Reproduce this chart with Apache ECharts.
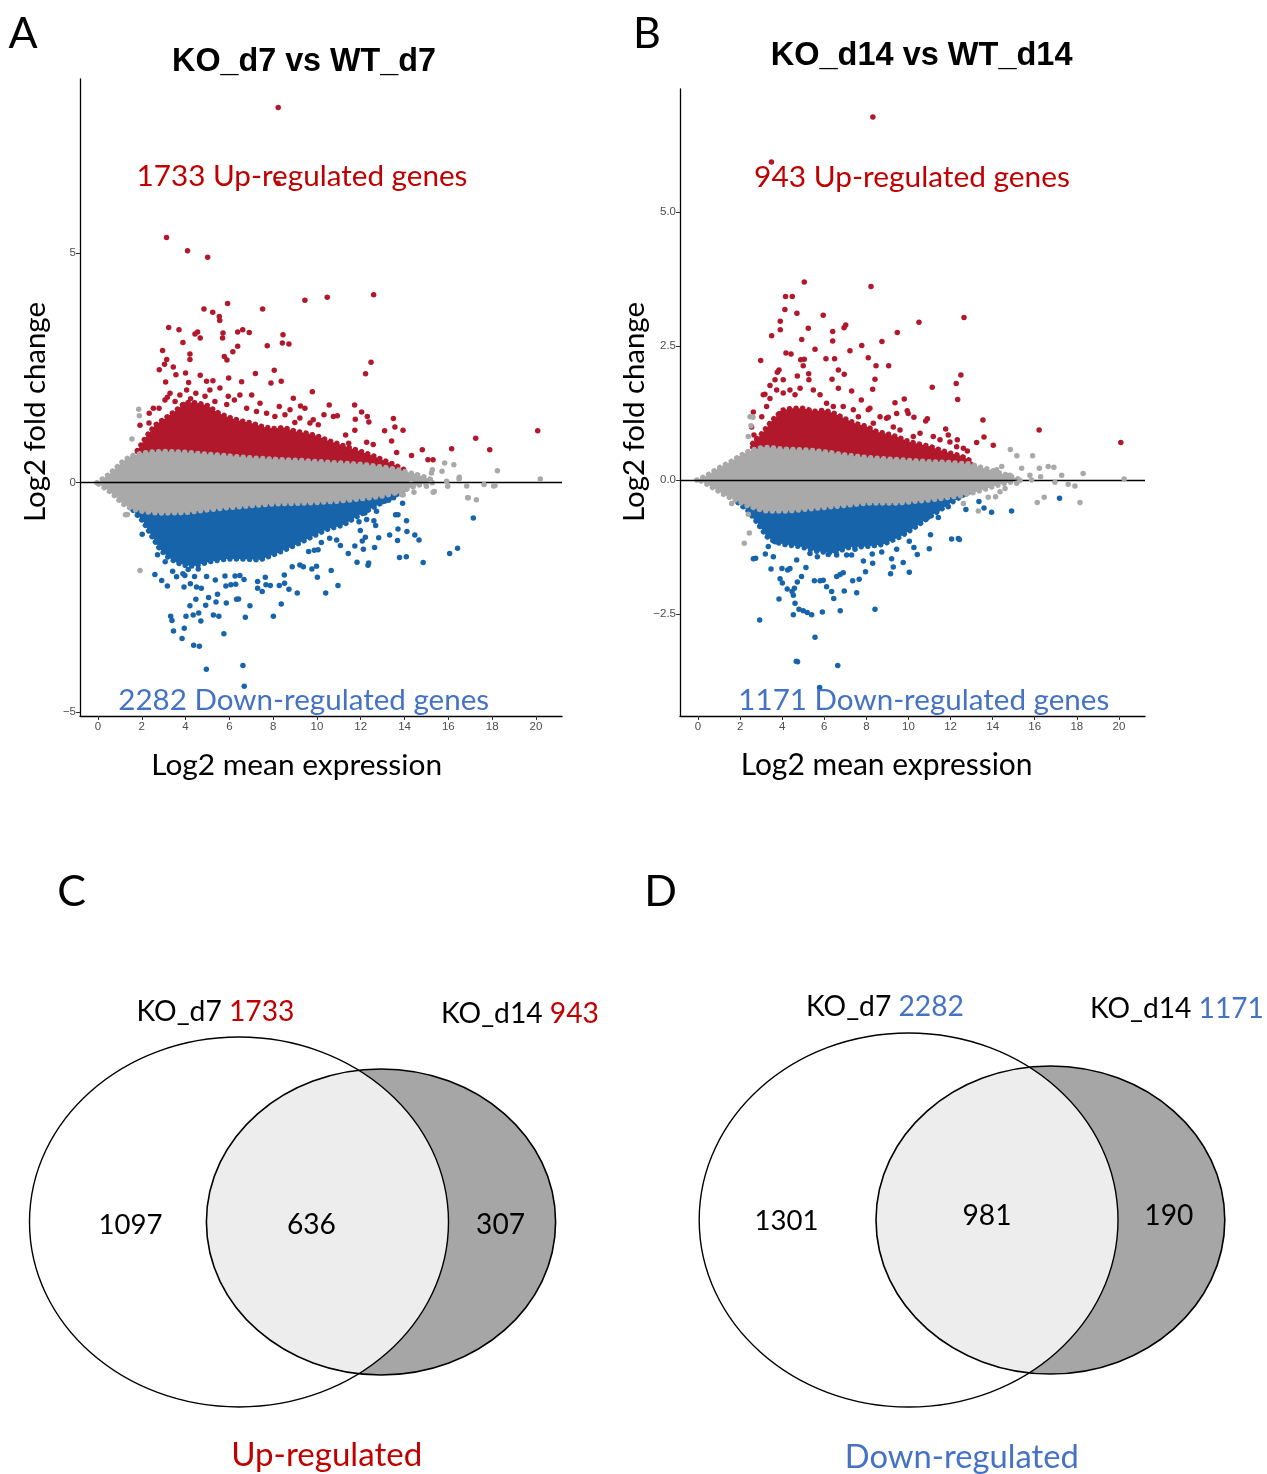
<!DOCTYPE html>
<html><head><meta charset="utf-8">
<script src="https://cdn.jsdelivr.net/npm/echarts@6/dist/echarts.min.js"></script>
<style>html,body{margin:0;padding:0;background:#fff}#c{width:1267px;height:1474px}</style>
</head><body><div id="c"></div>
<script>
// ---------------- DATA ----------------
const xTickValues = [0, 2, 4, 6, 8, 10, 12, 14, 16, 18, 20];
const yTicksA = [-5, 0, 5];
const yTicksB = [-2.5, 0, 2.5, 5];

// Panel A (KO_d7 vs WT_d7): dense gray cloud envelope
const grayAX  = [-0.05, 0.2, 0.5, 0.8, 1.1, 1.5, 2.0, 2.5, 3.0, 4.0, 5.0, 6.0, 7.0, 8.0, 9.0, 10.0, 11.0, 12.0, 13.0, 13.6, 14.2, 14.8, 15.3];
const grayAUp = [0, 0.08, 0.18, 0.31, 0.45, 0.58, 0.64, 0.67, 0.68, 0.66, 0.62, 0.58, 0.54, 0.51, 0.49, 0.46, 0.43, 0.40, 0.34, 0.29, 0.22, 0.14, 0.05];
const grayALo = [0, -0.08, -0.18, -0.30, -0.45, -0.56, -0.62, -0.65, -0.66, -0.65, -0.59, -0.54, -0.50, -0.46, -0.45, -0.43, -0.40, -0.35, -0.29, -0.22, -0.12, -0.03, 0];
// dense cores of significant genes (A)
const redCoreAX   = [1.8, 2.2, 2.6, 3.0, 3.5, 4.0, 4.5, 5.0, 5.5, 6.0, 6.5, 7.0, 7.5, 8.0, 8.5, 9.0, 9.5, 10.0, 10.5, 11.0, 11.5, 12.0, 12.5, 13.0, 13.5, 14.0];
const redCoreATop = [0.7, 1.0, 1.25, 1.38, 1.55, 1.75, 1.74, 1.68, 1.52, 1.42, 1.35, 1.3, 1.22, 1.18, 1.2, 1.12, 1.08, 1.02, 0.92, 0.84, 0.76, 0.68, 0.6, 0.5, 0.4, 0.28];
const blueCoreAX  = [1.6, 2.07, 2.5, 2.83, 3.2, 3.59, 4.0, 4.35, 5.11, 5.88, 6.64, 7.4, 8.16, 8.92, 9.68, 10.44, 11.2, 11.96, 12.72, 13.49, 14.0];
const blueCoreABot = [-0.6, -0.85, -1.2, -1.45, -1.62, -1.74, -1.8, -1.82, -1.72, -1.66, -1.66, -1.68, -1.54, -1.38, -1.2, -1.02, -0.92, -0.7, -0.5, -0.3, -0.15];
const redPointsA = [[12.59,4.09],[10.47,4.04],[9.45,3.97],[5.92,3.90],[4.84,3.78],[5.24,3.71],[7.52,3.78],[5.54,3.62],[5.56,3.53],[3.23,3.38],[3.70,3.33],[4.43,3.24],[4.55,3.28],[4.67,3.15],[5.71,3.26],[5.69,3.15],[6.38,3.28],[6.61,3.33],[6.91,3.27],[8.45,3.22],[8.42,3.04],[8.72,3.02],[7.73,2.98],[3.88,3.05],[2.95,2.88],[4.20,2.80],[4.20,2.68],[3.14,2.68],[3.04,2.58],[2.80,2.46],[5.77,2.75],[5.89,2.67],[6.16,2.85],[6.38,2.97],[12.47,2.62],[12.22,2.37],[3.44,2.52],[3.56,2.35],[3.09,2.19],[4.00,2.39],[4.67,2.34],[5.97,2.28],[6.56,2.20],[7.19,2.38],[8.05,2.45],[8.37,2.21],[7.90,2.17],[9.79,1.98],[4.96,2.21],[5.25,2.22],[4.14,2.18],
  [2.34,1.51],[2.53,1.62],[2.79,1.62],[1.92,1.25],[2.33,1.30],[3.06,1.80],[3.29,1.95],[3.74,1.91],[4.05,2.02],[4.47,1.95],[5.11,2.02],[5.57,2.06],[5.95,1.88],[6.48,1.91],[7.02,1.91],[7.40,1.73],[8.28,1.66],[8.92,1.84],[9.25,1.67],[9.45,1.62],[10.56,1.69],[11.72,1.69],[12.04,1.54],[12.30,1.44],[12.37,1.32],[11.75,1.38],[10.32,1.48],[10.75,1.44],[10.93,1.46],[9.68,1.30],[8.99,1.31],[13.49,1.40],[13.56,1.21],[13.93,1.14],[13.09,1.13],[13.41,0.91],[14.81,0.72],[14.32,0.59],[13.64,0.66],[15.07,0.50],[11.73,1.14],[11.31,1.04],[11.45,0.86],[12.27,0.88],[12.57,0.83],
  [3.17,1.86],[3.52,1.77],[3.90,1.70],[4.23,1.83],[4.89,1.88],[5.34,1.77],[5.88,1.70],[6.23,1.80],[6.79,1.62],[7.24,1.55],[7.70,1.51],[8.08,1.44],[8.54,1.48],[8.77,1.59],[9.83,1.37],[10.06,1.26],[9.22,1.41],
  [8.23,8.17],[8.22,6.52],[3.13,5.34],[4.09,5.05],[5.01,4.91],[16.15,0.74],[17.25,0.97],[17.89,0.72],[20.08,1.13],[15.3,0.5]];
const bluePointsA = [[2.02,-1.12],[2.60,-2.00],[2.91,-2.13],[3.17,-2.25],[2.72,-1.57],[3.07,-1.72],[3.32,-2.91],[3.38,-3.00],[3.45,-3.23],[3.84,-3.39],[3.94,-3.17],[4.02,-2.91],[4.20,-2.68],[4.37,-3.54],[4.63,-3.56],[4.35,-2.88],[4.60,-2.84],[4.70,-3.01],[4.95,-4.06],[6.62,-3.98],[6.68,-4.43],[5.75,-3.29],[5.27,-2.88],[5.52,-2.91],[5.05,-2.50],[4.47,-2.54],[4.92,-2.67],[5.39,-2.60],[5.46,-2.43],[5.86,-2.62],[6.33,-2.54],[6.42,-2.53],[6.73,-2.93],[6.94,-2.68],[8.01,-2.91],[8.37,-2.64],[7.50,-2.37],[7.29,-2.30],[7.67,-2.22],[7.87,-2.24],[8.28,-2.24],[8.52,-2.19],[8.72,-2.32],[9.10,-2.40],[8.51,-2.01],[7.64,-2.06],[7.29,-2.15],[10.40,-2.40],[10.96,-2.24],[10.65,-1.91],[10.02,-2.06],[9.77,-1.88],[9.98,-1.82],[8.87,-1.83],[9.22,-1.79],[9.38,-1.83],[11.83,-1.73],[12.33,-1.80],[12.36,-1.75],[13.77,-1.63],[14.08,-1.61],[14.85,-1.74],[16.06,-1.54],[16.42,-1.43],[17.14,-0.77],[14.66,-1.25],[14.47,-1.14],[14.11,-1.06],[13.70,-1.01],[13.68,-1.26],[13.32,-1.14],[12.82,-1.20],[12.63,-1.41],[12.12,-1.45],[12.07,-1.27],[11.73,-1.38],[11.43,-1.54],[11.07,-1.37],[10.90,-1.25],[10.58,-1.21],[10.20,-1.30],[9.88,-1.47],[10.05,-1.46],[9.62,-1.50],[12.21,-1.19],[11.98,-1.04],[11.92,-0.85],[12.27,-0.80],[12.19,-0.66],[12.72,-0.62],[12.60,-0.83],[12.68,-0.93],[13.59,-0.70],[13.70,-0.70],[14.09,-0.83],[13.03,-0.41],[13.27,-0.38],[13.91,-0.45],[13.50,-0.33],[3.93,-2.27],[4.22,-2.20],[4.50,-2.27],[4.72,-2.30],[4.12,-1.89],[3.88,-1.98],[3.59,-2.05],[3.41,-1.93],[3.97,-2.02],[6.07,-2.22],[5.84,-2.25],[6.29,-2.21],[6.67,-2.11],[6.48,-2.02],[6.26,-2.03],[5.80,-2.03],[5.36,-2.12],[4.96,-2.04],[4.58,-1.88],[4.41,-2.04]];
const grayPointsA = [[15.83,0.43],[16.25,0.39],[16.49,0.08],[16.84,-0.07],[18.24,0.26],[18.07,-0.07],[17.63,-0.04],[16.88,-0.33],[17.28,-0.37],[20.2,0.08],[15.97,-0.08],[15.36,-0.19],[15.0,-0.08],[15.27,0.28],[15.18,0.07],[14.57,0.17],[14.31,0.07],[14.05,-0.15],[13.87,-0.26],[13.63,-0.19],[15.71,0.25],[1.86,1.60],[1.89,1.46],[1.55,0.95],[1.92,-1.91],[1.26,-0.70],[1.34,-0.69],[13.94,-0.26],[14.43,-0.21],[15.31,-0.21],[15.92,0.03],[16.91,-0.33],[18.13,-0.06],[16.5,0.12],[15.23,0.21]];

// Panel B (KO_d14 vs WT_d14)
const grayBX  = [-0.05, 0.1, 0.4, 0.73, 1.1, 1.52, 2.0, 2.31, 2.7, 3.1, 3.5, 3.9, 4.5, 5.48, 6.3, 7.06, 8.0, 8.65, 9.5, 10.23, 11.0, 11.81, 12.5, 12.92, 13.4, 13.8, 14.19, 14.6, 14.98, 15.3];
const grayBUp = [0, 0.02, 0.08, 0.16, 0.25, 0.33, 0.45, 0.52, 0.57, 0.61, 0.60, 0.58, 0.57, 0.55, 0.51, 0.46, 0.42, 0.40, 0.38, 0.36, 0.34, 0.33, 0.31, 0.30, 0.24, 0.20, 0.15, 0.10, 0.05, 0.01];
const grayBLo = [0, -0.01, -0.07, -0.15, -0.24, -0.33, -0.41, -0.47, -0.52, -0.57, -0.58, -0.58, -0.57, -0.53, -0.50, -0.47, -0.43, -0.43, -0.43, -0.40, -0.37, -0.33, -0.29, -0.25, -0.20, -0.15, -0.10, -0.06, -0.03, -0.01];
const redCoreBX   = [2.6, 3.0, 3.5, 4.0, 4.5, 5.0, 5.5, 6.0, 6.5, 7.0, 7.5, 8.0, 8.5, 9.0, 9.5, 10.0, 10.5, 11.0, 11.5, 12.0, 12.5, 13.0];
const redCoreBTop = [0.68, 0.85, 1.1, 1.3, 1.34, 1.34, 1.28, 1.3, 1.24, 1.14, 1.05, 1.0, 0.9, 0.86, 0.8, 0.72, 0.67, 0.63, 0.56, 0.5, 0.45, 0.35];
const blueCoreBX  = [1.9, 2.4, 2.79, 3.26, 3.6, 4.05, 4.85, 5.64, 6.43, 7.22, 8.01, 8.80, 9.60, 10.39, 11.18, 11.97, 12.6, 13.0];
const blueCoreBBot = [-0.42, -0.58, -0.78, -1.05, -1.14, -1.2, -1.24, -1.33, -1.36, -1.25, -1.24, -1.2, -1.06, -0.86, -0.64, -0.44, -0.28, -0.2];
const redPointsB = [[5.05,3.69],[8.22,3.61],[4.16,3.42],[4.48,3.42],[4.13,3.18],[4.70,3.11],[5.95,3.07],[3.91,2.96],[3.91,2.80],[5.24,2.83],[3.50,2.69],[4.93,2.62],[5.56,2.44],[6.40,2.77],[6.40,2.59],[6.94,2.84],[7.02,2.89],[7.78,2.51],[7.22,2.41],[8.74,2.58],[9.47,2.75],[10.50,2.94],[12.64,3.03],[11.13,1.73],[12.49,1.96],[12.27,1.80],[12.34,1.50],[13.54,1.12],[13.59,0.80],[2.98,2.23],[4.18,2.37],[4.42,2.35],[4.88,2.24],[5.05,2.25],[5.00,2.13],[6.08,2.26],[6.49,2.26],[6.67,2.05],[6.95,1.97],[8.09,2.28],[8.46,2.13],[9.06,2.13],[8.41,1.88],[8.30,1.69],[7.76,1.49],[5.26,1.98],[5.27,1.87],[4.72,1.94],[3.85,2.05],[3.77,2.01],[3.42,1.76],[3.18,1.60],[3.66,1.87],[4.05,1.87],[6.37,1.88],[6.67,1.71],[7.30,1.66],[9.80,1.51],[9.36,1.44],[9.94,1.29],[9.99,1.24],[10.26,1.17],[10.82,1.10],[10.90,1.14],[11.77,0.95],[11.89,0.84],[2.63,1.27],[2.66,0.84],[3.10,1.59],[8.17,1.34],[8.65,1.18],[9.04,1.17],[13.24,0.70],[14.03,0.65],[12.80,0.54],[12.32,0.75],
  [2.55,0.99],[2.79,0.75],[3.03,1.18],[3.26,1.37],[3.42,1.52],[3.74,1.68],[4.05,1.62],[4.37,1.68],[4.61,1.59],[4.85,1.71],[5.48,1.68],[5.80,1.59],[6.11,1.43],[6.43,1.37],[6.90,1.37],[7.38,1.31],[7.62,1.18],[8.09,1.31],[8.33,1.06],[9.28,0.99],[9.60,0.93],[10.23,0.81],[10.55,0.87],[11.18,0.81],[11.50,0.75],[11.97,0.71],[12.29,0.62],[12.61,0.59],[8.96,1.15],[9.44,1.24],[5.32,1.27],[5.80,1.24],[3.90,1.24],
  [8.31,6.77],[3.49,5.93],[16.21,0.93],[20.09,0.70]];
const bluePointsB = [[2.76,-0.70],[2.93,-2.61],[2.63,-1.47],[2.74,-1.46],[3.47,-1.66],[3.85,-2.22],[3.99,-1.65],[4.26,-1.68],[4.37,-1.65],[4.24,-2.03],[3.90,-1.84],[4.01,-1.92],[4.47,-2.08],[4.53,-2.15],[4.58,-2.02],[4.72,-1.90],[4.92,-1.80],[4.61,-2.30],[4.53,-2.51],[4.80,-2.41],[5.00,-2.44],[5.19,-2.47],[5.40,-2.51],[5.56,-2.93],[4.67,-3.38],[4.73,-3.39],[6.64,-3.46],[5.78,-3.87],[5.91,-2.46],[6.76,-2.44],[8.41,-2.41],[7.54,-2.10],[6.95,-2.07],[6.45,-2.21],[6.35,-2.08],[6.11,-1.99],[5.53,-1.88],[5.80,-1.88],[5.95,-1.87],[6.59,-1.80],[6.75,-1.76],[6.90,-1.73],[7.35,-1.88],[7.66,-1.85],[7.96,-1.71],[7.86,-1.51],[8.30,-1.55],[9.15,-1.75],[9.28,-1.62],[9.75,-1.54],[10.04,-1.72],[9.20,-1.47],[10.42,-1.39],[10.26,-1.26],[10.99,-1.28],[11.05,-1.02],[10.04,-1.14],[12.05,-1.10],[12.37,-1.09],[12.42,-1.11],[10.55,-0.76],[10.39,-0.78],[10.91,-0.70],[11.42,-0.70],[11.37,-0.56],[11.18,-0.53],[11.89,-0.50],[12.53,-0.29],[12.73,-0.55],[12.29,-0.32],[8.73,-1.34],[8.28,-1.38],[9.44,-1.29],[7.06,-1.40],[7.30,-1.40],[7.46,-1.29],[6.19,-1.39],[6.59,-1.40],[5.67,-1.43],[5.32,-1.37],[5.13,-1.63],[4.69,-1.49],[3.58,-1.43],[3.20,-1.38],[3.34,-1.24],[3.66,-1.15],[3.42,-0.95],[3.26,-0.90],[17.18,-0.34],[14.90,-0.58],[13.95,-0.60],[13.59,-0.52],[13.35,-0.40]];
const grayPointsB = [[20.25,0.02],[18.30,0.12],[18.15,-0.42],[17.91,-0.11],[17.59,-0.08],[17.28,0.09],[16.91,0.24],[16.64,0.25],[16.22,0.22],[16.28,0.06],[16.45,-0.32],[16.12,-0.42],[16.96,-0.04],[15.77,0.09],[15.85,0.0],[15.38,0.22],[15.30,-0.01],[15.14,-0.06],[14.82,0.09],[14.59,-0.16],[14.43,0.25],[14.19,0.19],[14.35,-0.22],[14.14,-0.31],[13.79,-0.32],[13.32,-0.58],[12.61,-0.44],[2.44,-0.99],[2.20,-1.18],[2.39,-0.64],[1.60,-0.44],[14.84,0.57],[15.9,0.45],[15.15,0.45],[2.47,1.18],[2.52,1.01],[2.39,0.81],[2.61,1.17]];

// Counts
const upCounts   = {d7: 1733, d14: 943, d7Only: 1097, both: 636, d14Only: 307};
const downCounts = {d7: 2282, d14: 1171, d7Only: 1301, both: 981, d14Only: 190};

// ---------------- STYLE / LAYOUT ----------------
const RED_PT = '#b2182b', BLUE_PT = '#1764ab', GRAY_PT = '#a9a9a9';
const RED_TX = '#c00000', BLUE_TX = '#4472c4';
const SANS = 'Lato', ARIAL = '"Liberation Sans"';
const mctx = document.createElement('canvas').getContext('2d');
function fit(text, family, weight, w) {
  mctx.font = weight + ' 100px ' + family;
  return 100 * w / mctx.measureText(text).width;
}
function label(text, cx, cy, w, opt) {
  opt = opt || {};
  const fam = opt.family || SANS, wt = opt.weight || 'normal';
  const size = opt.size || fit(opt.measure || text, fam, wt, w);
  const st = {text: text, x: 0, y: 0, fill: opt.color || '#000',
    font: wt + ' ' + size.toFixed(2) + 'px ' + fam,
    fontSize: size, fontFamily: fam, fontWeight: wt,
    align: 'center', verticalAlign: 'middle', textAlign: 'center', textVerticalAlign: 'middle'};
  if (opt.rich) {
    st.rich = {};
    for (const k in opt.rich) st.rich[k] = {fill: opt.rich[k], color: opt.rich[k], fontSize: size, fontFamily: fam, fontWeight: wt, font: wt + ' ' + size.toFixed(2) + 'px ' + fam};
  }
  return {type: 'text', x: cx, y: cy, rotation: opt.rotation || 0, z: 100, silent: true, style: st};
}

// dense regions drawn as filled envelopes with a beaded (dotted) outline
function band(xs, hi, lo, color, gi, z) {
  const data = xs.map((x, i) => [x, hi[i], lo ? lo[i] : 0]);
  return {type: 'custom', xAxisIndex: gi, yAxisIndex: gi, z: z, silent: true, animation: false,
    data: data, encode: {x: 0, y: [1, 2]},
    renderItem: function (params, api) {
      if (params.dataIndex !== 0) return null;
      const pts = data.map(d => api.coord([d[0], d[1]]))
        .concat(data.slice().reverse().map(d => api.coord([d[0], d[2]])));
      return {type: 'polygon', shape: {points: pts},
        style: {fill: color, stroke: color, lineWidth: 5.5, lineDash: [0.01, 6.5], lineCap: 'round', lineJoin: 'round'}};
    }};
}
function dots(data, color, gi, z, extra) {
  return Object.assign({type: 'scatter', xAxisIndex: gi, yAxisIndex: gi, data: data, symbolSize: 5.5,
    itemStyle: {color: color, opacity: 1}, z: z, silent: true, animation: false}, extra || {});
}
const zeroLine = {silent: true, symbol: ['none', 'none'], label: {show: false},
  lineStyle: {color: '#000', width: 1.4, type: 'solid'}, data: [{yAxis: 0}], animation: false};

function xAx(gi, min, max) {
  return {gridIndex: gi, type: 'value', min: min, max: max,
    axisLine: {show: true, onZero: false, lineStyle: {color: '#000', width: 1.3}},
    axisTick: {show: true, length: 4, customValues: xTickValues, lineStyle: {color: '#333', width: 1}},
    axisLabel: {customValues: xTickValues, color: '#4d4d4d', fontSize: 11.5, fontFamily: 'Liberation Sans', margin: 5},
    splitLine: {show: false}};
}
function yAx(gi, min, max, ticks, fmt) {
  return {gridIndex: gi, type: 'value', min: min, max: max,
    axisLine: {show: true, onZero: false, lineStyle: {color: '#000', width: 1.3}},
    axisTick: {show: true, length: 4, customValues: ticks, lineStyle: {color: '#333', width: 1}},
    axisLabel: {customValues: ticks, color: '#4d4d4d', fontSize: 11.5, fontFamily: 'Liberation Sans', margin: 4,
      formatter: v => (v < 0 ? '\u2212' : '') + fmt(Math.abs(v))},
    splitLine: {show: false}};
}

// Venn geometry (layout only)
const vennC = {e1: {cx: 239, cy: 1222, rx: 209.5, ry: 185}, e2: {cx: 381, cy: 1222, rx: 174.6, ry: 153}};
const vennD = {e1: {cx: 908.6, cy: 1220, rx: 209.4, ry: 187}, e2: {cx: 1050.4, cy: 1220, rx: 174.4, ry: 154}};
function inside(e, x, y) { const a = (x - e.cx) / e.rx, b = (y - e.cy) / e.ry; return a * a + b * b <= 1.0001; }
function lens(v) {
  const pts = [];
  for (let i = 0; i < 720; i++) {
    const t = i / 720 * Math.PI * 2;
    const p1 = [v.e1.cx + v.e1.rx * Math.cos(t), v.e1.cy + v.e1.ry * Math.sin(t)];
    if (inside(v.e2, p1[0], p1[1])) pts.push(p1);
    const p2 = [v.e2.cx + v.e2.rx * Math.cos(t), v.e2.cy + v.e2.ry * Math.sin(t)];
    if (inside(v.e1, p2[0], p2[1])) pts.push(p2);
  }
  const cx = pts.reduce((s, p) => s + p[0], 0) / pts.length, cy = pts.reduce((s, p) => s + p[1], 0) / pts.length;
  pts.sort((a, b) => Math.atan2(a[1] - cy, a[0] - cx) - Math.atan2(b[1] - cy, b[0] - cx));
  return pts;
}
function venn(v) {
  return [
    {type: 'ellipse', shape: v.e1, style: {fill: '#fff', stroke: 'none'}, z: 10, silent: true},
    {type: 'ellipse', shape: v.e2, style: {fill: '#a6a6a6', stroke: 'none'}, z: 11, silent: true},
    {type: 'polygon', shape: {points: lens(v)}, style: {fill: '#ededed', stroke: 'none'}, z: 12, silent: true},
    {type: 'ellipse', shape: v.e1, style: {fill: 'none', stroke: '#000', lineWidth: 1.4}, z: 13, silent: true},
    {type: 'ellipse', shape: v.e2, style: {fill: 'none', stroke: '#000', lineWidth: 1.6}, z: 13, silent: true}
  ];
}

const texts = [
  label('A', 23, 34, 0, {size: 43}),
  label('B', 647, 34, 0, {size: 43}),
  label('C', 71.5, 892, 0, {size: 43}),
  label('D', 660.5, 892, 0, {size: 43}),
  label('KO_d7 vs WT_d7', 304, 62, 264, {family: ARIAL, weight: 'bold'}),
  label('KO_d14 vs WT_d14', 921.6, 56.5, 302, {family: ARIAL, weight: 'bold'}),
  label(upCounts.d7 + ' Up-regulated genes', 302, 176, 331, {color: RED_TX}),
  label(downCounts.d7 + ' Down-regulated genes', 303.7, 700, 371, {color: BLUE_TX}),
  label(upCounts.d14 + ' Up-regulated genes', 912, 177, 316, {color: RED_TX}),
  label(downCounts.d14 + ' Down-regulated genes', 923.8, 700, 371, {color: BLUE_TX}),
  label('Log2 mean expression', 296.6, 765.5, 291),
  label('Log2 mean expression', 886.6, 765.5, 292),
  label('Log2 fold change', 36, 412, 220, {rotation: Math.PI / 2}),
  label('Log2 fold change', 634.5, 412, 220, {rotation: Math.PI / 2}),
  // Venn C
  label('{k|KO_d7 }{r|' + upCounts.d7 + '}', 215.5, 1011.5, 158, {measure: 'KO_d7 ' + upCounts.d7, rich: {k: '#000', r: RED_TX}}),
  label('{k|KO_d14 }{r|' + upCounts.d14 + '}', 520, 1013.5, 158, {measure: 'KO_d14 ' + upCounts.d14, rich: {k: '#000', r: RED_TX}}),
  label(String(upCounts.d7Only), 130.5, 1225, 64),
  label(String(upCounts.both), 311.4, 1225, 49),
  label(String(upCounts.d14Only), 500.6, 1225, 49),
  label('Up-regulated', 326.7, 1455, 191, {color: RED_TX}),
  // Venn D
  label('{k|KO_d7 }{b|' + downCounts.d7 + '}', 885, 1006.5, 158, {measure: 'KO_d7 ' + downCounts.d7, rich: {k: '#000', b: BLUE_TX}}),
  label('{k|KO_d14 }{b|' + downCounts.d14 + '}', 1177, 1008.5, 174, {measure: 'KO_d14 ' + downCounts.d14, rich: {k: '#000', b: BLUE_TX}}),
  label(String(downCounts.d7Only), 786.4, 1221, 64),
  label(String(downCounts.both), 987, 1216, 49),
  label(String(downCounts.d14Only), 1168.8, 1216, 49),
  label('Down-regulated', 961.8, 1457, 234, {color: BLUE_TX})
];

const option = {
  animation: false,
  backgroundColor: '#fff',
  grid: [
    {left: 80, top: 79, width: 482, height: 637},
    {left: 680, top: 89, width: 465, height: 627}
  ],
  xAxis: [xAx(0, -0.82, 21.19), xAx(1, -0.855, 21.24)],
  yAxis: [yAx(0, -5.08, 8.79, yTicksA, v => String(v)), yAx(1, -4.40, 7.29, yTicksB, v => v.toFixed(1))],
  series: [
    band(redCoreAX, redCoreATop, null, RED_PT, 0, 2),
    band(blueCoreAX, blueCoreABot, null, BLUE_PT, 0, 2),
    dots(redPointsA, RED_PT, 0, 3),
    dots(bluePointsA, BLUE_PT, 0, 3),
    band(grayAX, grayAUp, grayALo, GRAY_PT, 0, 4),
    dots(grayPointsA, GRAY_PT, 0, 5, {markLine: zeroLine}),
    band(redCoreBX, redCoreBTop, null, RED_PT, 1, 2),
    band(blueCoreBX, blueCoreBBot, null, BLUE_PT, 1, 2),
    dots(redPointsB, RED_PT, 1, 3),
    dots(bluePointsB, BLUE_PT, 1, 3),
    band(grayBX, grayBUp, grayBLo, GRAY_PT, 1, 4),
    dots(grayPointsB, GRAY_PT, 1, 5, {markLine: zeroLine})
  ],
  graphic: {elements: venn(vennC).concat(venn(vennD)).concat(texts)}
};
const chart = echarts.init(document.getElementById('c'), null, {renderer: 'canvas'});
chart.setOption(option);
</script></body></html>
